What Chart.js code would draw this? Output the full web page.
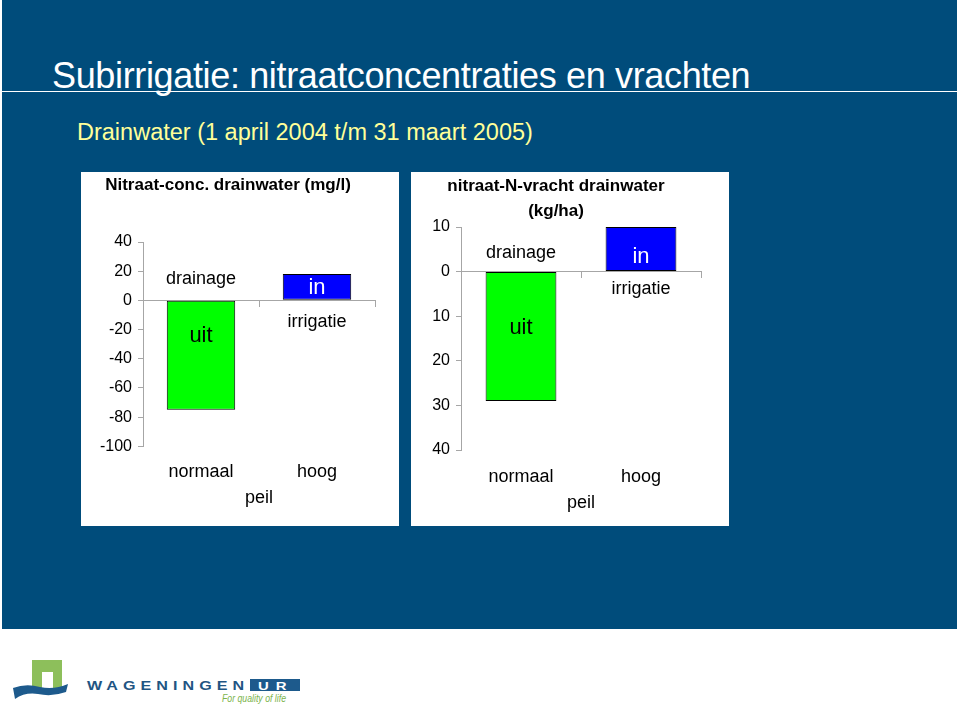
<!DOCTYPE html>
<html>
<head>
<meta charset="utf-8">
<script src="https://cdn.jsdelivr.net/npm/chart.js@4.4.1/dist/chart.umd.min.js"></script>
<style>
  body { margin: 0; width: 960px; height: 720px; background: #fff; position: relative; overflow: hidden; font-family: "Liberation Sans", Arial, sans-serif; }
  #slide { position: absolute; left: 2px; top: 0; width: 955px; height: 629px; background: #004c7b; }
  #rule { position: absolute; left: 0; top: 91px; width: 955px; height: 1px; background: #fff; }
  #title { position: absolute; left: 50px; top: 58px; font-size: 36px; line-height: 36px; letter-spacing: -0.35px; color: #fff; white-space: nowrap; }
  #subtitle { position: absolute; left: 75px; top: 120px; font-size: 23.5px; line-height: 24px; color: #ffff99; white-space: nowrap; }
  .panel { position: absolute; top: 172px; width: 318px; height: 354px; background: #fff; }
  canvas { position: absolute; top: 172px; }
  #logo { position: absolute; left: 0; top: 650px; }
</style>
</head>
<body>
<div id="slide">
  <div id="title">Subirrigatie: nitraatconcentraties en vrachten</div>
  <div id="rule"></div>
  <div id="subtitle">Drainwater (1 april 2004 t/m 31 maart 2005)</div>
</div>
<div class="panel" style="left:81px"></div>
<div class="panel" style="left:411px"></div>
<canvas id="concChart" width="334" height="355" style="left:81px"></canvas>
<canvas id="loadChart" width="309" height="355" style="left:411px"></canvas>

<svg id="logo" width="310" height="60">
  <path d="M32 10 H62 V38 H53 V22 H42 V38 H32 Z" fill="#8dbf5b"/>
  <path d="M13 38 Q26 33 40 37 Q54 40 68 34 L66 42 Q52 47 38 44 Q25 42 15 49 Z" fill="#1d5a8c"/>
  <text transform="translate(87,39.5) scale(1.15,0.9)" x="0" y="0" font-family="Liberation Sans" font-size="14" font-weight="bold" letter-spacing="4.4" fill="#1f5583">WAGENINGEN</text>
  <rect x="250" y="29" width="50" height="12" fill="#1d5a8c"/>
  <text transform="translate(258,39.5) scale(1.15,0.9)" x="0" y="0" font-family="Liberation Sans" font-size="13" font-weight="bold" letter-spacing="6" fill="#fff">UR</text>
  <text x="222" y="52" font-family="Liberation Sans" font-size="11.5" font-style="italic" textLength="64" lengthAdjust="spacingAndGlyphs" fill="#7cb44c">For quality of life</text>
</svg>

<script>
const categories = ['normaal', 'hoog'];
const concValues = [-75, 18];
const loadValues = [-29, 10];
const barColors = ['#00ff00', '#0000ff'];
const insideLabels = ['uit', 'in'];
const outsideLabels = ['drainage', 'irrigatie'];

const concTicks = [40, 20, 0, -20, -40, -60, -80, -100];
const concTickLabels = ['40', '20', '0', '-20', '-40', '-60', '-80', '-100'];
const loadTicks = [10, 0, -10, -20, -30, -40];
const loadTickLabels = ['10', '0', '10', '20', '30', '40'];

const axisGrey = '#a6a6a6';

// writes "uit"/"in" inside the bars and "drainage"/"irrigatie" across the zero line
const barText = {
  id: 'barText',
  afterDatasetsDraw(chart, args, opts) {
    const ctx = chart.ctx;
    const zero = chart.scales.y.getPixelForValue(0);
    chart.getDatasetMeta(0).data.forEach((bar, i) => {
      ctx.save();
      ctx.textAlign = 'center';
      ctx.textBaseline = 'middle';
      ctx.font = '18px "Liberation Sans"';
      ctx.fillStyle = '#000';
      ctx.fillText(outsideLabels[i], bar.x, zero + opts.outside[i]);
      ctx.font = '22px "Liberation Sans"';
      ctx.fillStyle = opts.insideColors[i];
      ctx.fillText(insideLabels[i], bar.x, zero + opts.inside[i]);
      ctx.restore();
    });
  }
};

function makeChart(id, values, ticks, tickLabels, cfg) {
  const sorted = ticks.slice().sort((a, b) => a - b);
  return new Chart(document.getElementById(id), {
    type: 'bar',
    data: {
      labels: categories,
      datasets: [{
        data: values,
        backgroundColor: barColors,
        borderColor: '#000',
        borderWidth: 1,
        borderSkipped: false,
        barPercentage: 0.59,
        categoryPercentage: 1
      }]
    },
    options: {
      responsive: false,
      animation: false,
      layout: { padding: { left: 0, right: cfg.right, top: 0, bottom: cfg.bottom } },
      plugins: {
        legend: { display: false },
        tooltip: { enabled: false },
        title: {
          display: true,
          text: cfg.title,
          color: '#000',
          font: { family: 'Liberation Sans', size: 17, weight: 'bold', lineHeight: cfg.titleLine },
          padding: cfg.titlePad
        },
        barText: { outside: cfg.outside, inside: cfg.inside, insideColors: ['#000', '#fff'] }
      },
      scales: {
        x: {
          position: { y: 0 },
          offset: true,
          ticks: { display: false },
          grid: { drawOnChartArea: false, drawTicks: true, tickLength: 6, offset: true, color: axisGrey },
          border: { color: axisGrey }
        },
        x2: {
          type: 'category',
          labels: categories,
          position: 'bottom',
          offset: true,
          grid: { display: false, drawTicks: false },
          border: { display: false },
          ticks: { color: '#000', font: { family: 'Liberation Sans', size: 18 }, padding: cfg.labelPad },
          title: { display: true, text: 'peil', color: '#000', font: { family: 'Liberation Sans', size: 18 }, padding: { top: cfg.peilPad, bottom: 0 } }
        },
        y: {
          min: sorted[0],
          max: sorted[sorted.length - 1],
          afterBuildTicks: (s) => { s.ticks = sorted.map(v => ({ value: v })); },
          afterFit: (s) => { s.width = cfg.yWidth; },
          ticks: {
            color: '#000',
            font: { family: 'Liberation Sans', size: 16 },
            padding: 6,
            callback: (v) => tickLabels[ticks.indexOf(v)]
          },
          grid: { drawOnChartArea: false, drawTicks: true, tickLength: 5, color: axisGrey },
          border: { color: axisGrey }
        }
      }
    },
    plugins: [barText]
  });
}

makeChart('concChart', concValues, concTicks, concTickLabels, {
  title: 'Nitraat-conc. drainwater (mg/l)',
  titleLine: 1.2,
  titlePad: { top: 3, bottom: 46.6 },
  yWidth: 62, right: 40, bottom: 18,
  labelPad: 15, peilPad: -10.5,
  outside: [-21, 22], inside: [36, -12]
});

makeChart('loadChart', loadValues, loadTicks, loadTickLabels, {
  title: ['nitraat-N-vracht drainwater', '(kg/ha)'],
  titleLine: 25 / 17,
  titlePad: { top: 1.5, bottom: 3.5 },
  yWidth: 50, right: 19, bottom: 13,
  labelPad: 16.5, peilPad: -12.2,
  outside: [-19, 17], inside: [56, -15]
});
</script>
</body>
</html>
